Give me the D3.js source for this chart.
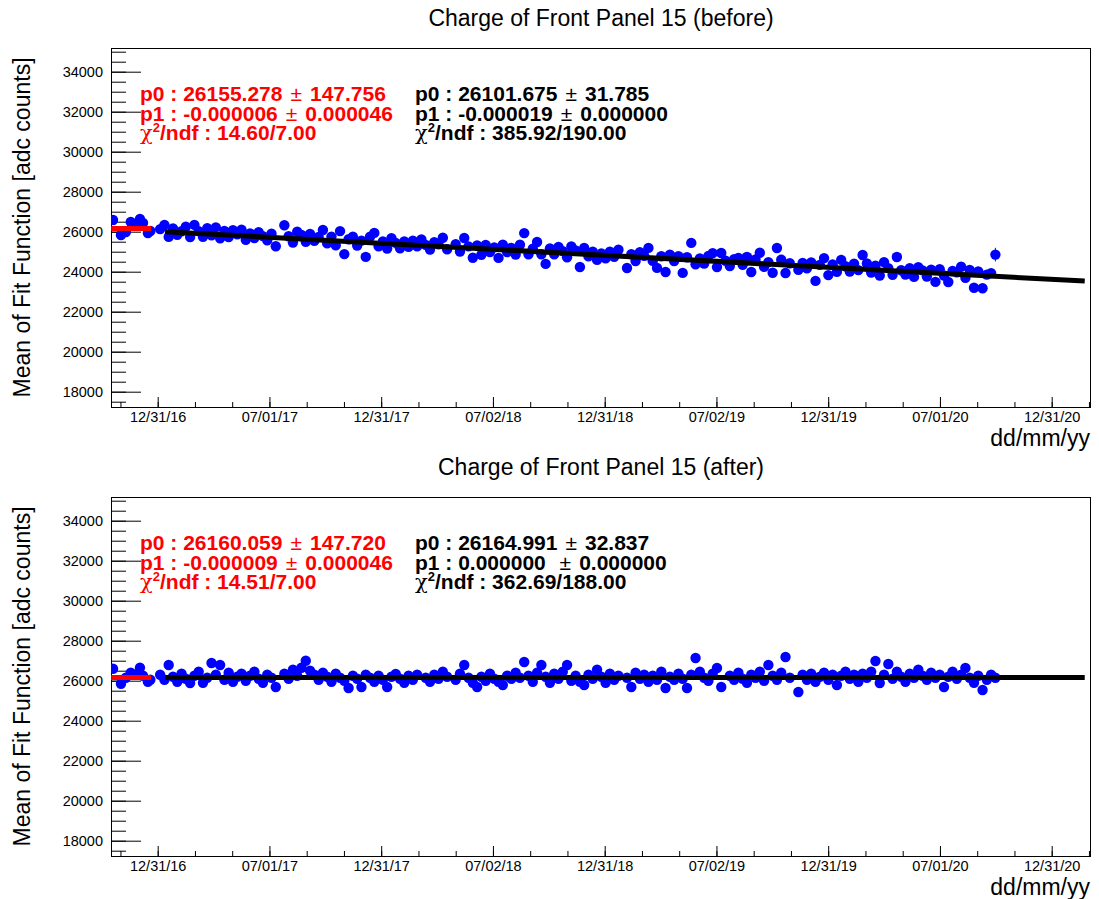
<!DOCTYPE html>
<html>
<head>
<meta charset="utf-8">
<script src="https://cdn.jsdelivr.net/npm/d3@7"></script>
<style>
  body { margin: 0; background: #fff; }
  svg { display: block; font-family: "Liberation Sans", Arial, Helvetica, sans-serif; }
</style>
</head>
<body>
<div id="chart"></div>
<script>
// ---- data ----
// x values are days since 2016-12-31
const earlyDays = [-73, -60, -52, -44, -37, -29, -24, -16, -12];
const earlyBefore = [26585, 25835, 25985, 26485, 26335, 26635, 26435, 25935, 26035];
const earlyAfter = [26600, 25850, 26150, 26400, 26300, 26650, 26250, 25950, 26050];

const daysBefore = [
  4, 11, 18, 25, 32, 39, 46, 53, 60, 67,
  74, 81, 88, 95, 102, 109, 116, 123, 130, 137,
  144, 151, 158, 165, 172, 179, 186, 193, 207,
  214, 221, 228, 235, 242, 249, 256, 263, 270, 277,
  284, 291, 298, 305, 312, 319, 326, 333, 340, 347,
  354, 361, 368, 375, 382, 389, 396, 403, 410, 417,
  424, 431, 438, 445, 452, 459, 466, 473, 487,
  494, 501, 508, 515, 522, 529, 536, 543, 550, 557,
  564, 571, 578, 585, 592, 599, 606, 613, 620, 627,
  634, 641, 648, 655, 662, 669, 676, 683, 690, 697,
  704, 711, 718, 725, 732, 739, 746, 753, 767,
  774, 781, 788, 795, 802, 809, 816, 823, 830, 837,
  844, 851, 858, 865, 872, 879, 886, 893, 900, 907,
  914, 921, 928, 935, 942, 949, 956, 963, 970, 977,
  984, 991, 998, 1005, 1012, 1019, 1026, 1033, 1047,
  1054, 1061, 1068, 1075, 1082, 1089, 1096, 1103, 1110, 1117,
  1124, 1131, 1138, 1145, 1152, 1159, 1166, 1173, 1180, 1187,
  1194, 1201, 1208, 1215, 1222, 1229, 1236, 1243, 1250, 1257,
  1264, 1271, 1278, 1285, 1292, 1299, 1306, 1313, 1320, 1327,
  1334, 1341, 1348, 1355, 1362, 1369
];
const chargeBefore = [
  26130, 26340, 25740, 26160, 25850, 26020, 26245, 25735, 26340, 26030,
  25750, 26170, 25815, 26215, 25670, 26040, 25730, 26070, 25865, 26095,
  25600, 25910, 25680, 25970, 25780, 25575, 25895, 25275, 26320,
  25770, 25455, 25995, 25835, 25500, 25890, 25540, 25740, 26085, 25415,
  25755, 25320, 26030, 24880, 25625, 25745, 25305, 25555, 24740, 25750,
  25940, 25275, 25515, 25155, 25680, 25440, 25170, 25510, 25245, 25555,
  25265, 25610, 25340, 25110, 25475, 25365, 25695, 25125, 25380,
  25010, 25685, 25265, 24695, 25310, 24850, 25340, 24980, 25215, 24690,
  25345, 24980, 25190, 24860, 25345, 25930, 24875, 25155, 25485, 24870,
  24390, 25165, 24875, 25240, 25030, 24720, 25260, 25060, 24235, 25185,
  24765, 25000, 24590, 24910, 24665, 25005, 24745, 25095, 24185,
  24870, 24535, 24975, 24795, 25190, 24540, 24190, 24770, 23985, 24845,
  24535, 24770, 23940, 24720, 25440, 24375, 24665, 24405, 24790, 24930,
  24230, 24935, 24545, 24285, 24620, 24690, 24350, 24740, 23985, 24615,
  24945, 24240, 24480, 23950, 25185, 24595, 23935, 24425, 24100,
  24440, 24175, 24465, 23540, 24340, 24680, 23830, 24360, 23995, 24590,
  24275, 24010, 24400, 24080, 24835, 24415, 23955, 24295, 23810, 24480,
  24180, 23845, 24735, 24075, 23860, 24180, 23740, 24230, 24065, 23755,
  24095, 23490, 24120, 23810, 23485, 24035, 23975, 24245, 23700, 24090,
  23200, 24015, 23175, 23855, 23930, 24855
];
// the "after" graph has the same dates except these two
const missingAfter = [431, 928];
const chargeAfter = [
  26300, 26050, 26785, 26200, 25950, 26350, 26100, 25880, 26250, 26450,
  25900, 26150, 26885, 26300, 26785, 26050, 26400, 25950, 26200, 26350,
  26000, 26250, 26450, 26100, 25900, 26300, 26150, 25685, 26350,
  26100, 26550, 26250, 26650, 27000, 26500, 26300, 26050, 26400, 26200,
  25950, 26350, 26150, 26000, 25635, 26250, 26100, 25685, 26300, 26150,
  25950, 26250, 26050, 25685, 26200, 26335, 26100, 25900, 26250, 26050,
  26300, 26150, 25950, 26300, 26100, 26450, 26200, 26050,
  26350, 26785, 26150, 25900, 25685, 26200, 26000, 26350, 26100, 25950,
  25785, 26250, 26100, 26400, 26150, 26935, 26250, 25950, 26400, 26785,
  26200, 25900, 26350, 26100, 26450, 26785, 26000, 26250, 25950, 25785,
  26300, 26100, 26550, 26200, 25900, 26350, 26050, 26250, 26150,
  25685, 26400, 26100, 26300, 25950, 26250, 26050, 26450, 25635, 26200,
  26050, 26350, 26100, 25635, 26300, 27135, 26450, 26150, 26000, 26350,
  26635, 25685, 26250, 26050, 26400, 26100, 25900, 26300, 26150,
  26450, 26000, 26785, 26250, 26050, 26400, 27185, 26150, 25435,
  26300, 26050, 26350, 25950, 26200, 26400, 26050, 26300, 25785, 26250,
  26450, 26100, 26300, 25950, 26350, 26150, 26450, 26985, 25885, 26300,
  26835, 26100, 26450, 26200, 25950, 26350, 26150, 26550, 26250, 26050,
  26400, 26150, 26300, 25685, 26200, 26450, 26100, 26300, 26635, 26150,
  25900, 26250, 25535, 26050, 26300, 26150
];
// visible error bars [day, error]; other points have small errors hidden by the marker
const bigErrBefore = [[1208, 220], [1369, 340]];
const bigErrAfter = [[1369, 200]];

// fits: [start day, end day] and values at the ends
const earlyFitDays = [-76, -11];
const earlyFitBefore = [26155, 26155];
const earlyFitAfter = [26160, 26160];
const fitDays = [12, 1515];
const fitBefore = [26000, 23530];
const fitAfter = [26165, 26165];

const tickDays = [0, 182.625, 365.25, 547.875, 730.5, 913.125, 1095.75, 1278.375, 1461];
const tickLabels = ['12/31/16', '07/01/17', '12/31/17', '07/02/18', '12/31/18',
                    '07/02/19', '12/31/19', '07/01/20', '12/31/20'];
const yMajor = [18000, 20000, 22000, 24000, 26000, 28000, 30000, 32000, 34000];

const statsBefore = {
  red: [['p0 : 26155.278', '147.756'], ['p1 : -0.000006', '0.000046'], [null, '/ndf : 14.60/7.00']],
  black: [['p0 : 26101.675', '31.785'], ['p1 : -0.000019', '0.000000'], [null, '/ndf : 385.92/190.00']]
};
const statsAfter = {
  red: [['p0 : 26160.059', '147.720'], ['p1 : -0.000009', '0.000046'], [null, '/ndf : 14.51/7.00']],
  black: [['p0 : 26164.991', '32.837'], ['p1 : 0.000000 ', '0.000000'], [null, '/ndf : 362.69/188.00']]
};

// ---- drawing ----
const W = 1099, H = 899;
const left = 111, right = 1090;
const base = Date.UTC(2016, 11, 31);
const day = d => new Date(base + d * 864e5);

const svg = d3.select('#chart').append('svg').attr('width', W).attr('height', H);

const x = d3.scaleUtc().domain([day(-76.3), day(1523.6)]).range([left, right]);

function drawPanel(off, title, early, days, charge, bigErr, earlyFit, fit, stats) {
  const top = 48 + off, bottom = 407 + off;
  const y = d3.scaleLinear().domain([17235, 35185]).range([bottom, top]);
  const g = svg.append('g');

  g.append('text').attr('x', 601).attr('y', 26 + off).attr('text-anchor', 'middle')
    .attr('font-size', 23).text(title);

  // y axis
  const minorY = d3.range(17500, 35001, 500);
  g.append('g').attr('transform', `translate(${left},0)`)
    .call(d3.axisLeft(y).tickValues(minorY).tickSize(-15).tickFormat(''))
    .call(a => a.select('.domain').remove());
  g.append('g').attr('transform', `translate(${left},0)`)
    .call(d3.axisLeft(y).tickValues(yMajor).tickSize(-30).tickPadding(8).tickFormat(d3.format('d')))
    .call(a => a.select('.domain').remove())
    .call(a => a.selectAll('text').attr('font-size', 14.5).attr('font-family', null).attr('fill', '#000'));

  // x axis
  const step = tickDays[1] - tickDays[0];
  const minorDays = [];
  for (let t = tickDays[0] - 2 * step; t <= tickDays[tickDays.length - 1] + step; t += step / 3) {
    if (t > -76.3 && t < 1523.6) minorDays.push(t);
  }
  g.append('g').attr('transform', `translate(0,${bottom})`)
    .call(d3.axisBottom(x).tickValues(minorDays.map(day)).tickSize(-5).tickFormat(''))
    .call(a => a.select('.domain').remove());
  g.append('g').attr('transform', `translate(0,${bottom})`)
    .call(d3.axisBottom(x).tickValues(tickDays.map(day)).tickSize(-10).tickPadding(5)
      .tickFormat((d, i) => tickLabels[i]))
    .call(a => a.select('.domain').remove())
    .call(a => a.selectAll('text').attr('font-size', 14.5).attr('font-family', null).attr('fill', '#000'));

  g.append('text').attr('x', right).attr('y', 446 + off).attr('text-anchor', 'end')
    .attr('font-size', 23).text('dd/mm/yy');

  g.append('text').attr('transform', `translate(30,${(top + bottom) / 2}) rotate(-90)`)
    .attr('text-anchor', 'middle').attr('font-size', 23).text('Mean of Fit Function [adc counts]');

  // frame
  g.append('rect').attr('x', left + 0.5).attr('y', top + 0.5)
    .attr('width', right - left).attr('height', bottom - top)
    .attr('fill', 'none').attr('stroke', '#000').attr('stroke-width', 1);

  // points
  const errMap = new Map(bigErr);
  const pts = days.map((d, i) => ({ d, v: charge[i], e: errMap.get(d) || 120 }))
    .filter(p => p.v !== undefined);
  const allPts = early.map(p => ({ d: p.d, v: p.v, e: 120 })).concat(pts);

  const clip = 'clip' + off;
  g.append('clipPath').attr('id', clip).append('rect')
    .attr('x', left).attr('y', top).attr('width', right - left).attr('height', bottom - top);
  const plot = g.append('g').attr('clip-path', `url(#${clip})`);

  plot.selectAll('line.err').data(allPts).enter().append('line')
    .attr('x1', p => x(day(p.d))).attr('x2', p => x(day(p.d)))
    .attr('y1', p => y(p.v - p.e)).attr('y2', p => y(p.v + p.e))
    .attr('stroke', '#0000ff').attr('stroke-width', 1);
  plot.selectAll('circle').data(allPts).enter().append('circle')
    .attr('cx', p => x(day(p.d))).attr('cy', p => y(p.v)).attr('r', 5.2)
    .attr('fill', '#0000ff');

  const line = d3.line().x(p => x(day(p[0]))).y(p => y(p[1]));
  plot.append('path').datum(earlyFitDays.map((d, i) => [d, earlyFit[i]]))
    .attr('d', line).attr('stroke', '#ff0000').attr('stroke-width', 5).attr('fill', 'none');
  plot.append('path').datum(fitDays.map((d, i) => [d, fit[i]]))
    .attr('d', line).attr('stroke', '#000').attr('stroke-width', 5).attr('fill', 'none');

  // fit results
  const writeStats = (lines, color, x0) => {
    lines.forEach((ln, i) => {
      const t = g.append('text').attr('x', x0).attr('y', 101 + i * 19.5 + off)
        .attr('font-size', 21).attr('font-weight', 'bold').attr('fill', color)
        .attr('xml:space', 'preserve');
      if (ln[0] === null) {
        t.append('tspan').attr('font-weight', 'normal').attr('font-family', 'DejaVu Serif, serif').text('χ');
        t.append('tspan').attr('font-size', 13).attr('dy', -8).text('2');
        t.append('tspan').attr('dy', 8).text(ln[1]);
      } else {
        t.append('tspan').text(ln[0]);
        t.append('tspan').attr('dx', 8).attr('font-weight', 'normal').text('±');
        t.append('tspan').attr('dx', 8).text(ln[1]);
      }
    });
  };
  writeStats(stats.red, '#ff0000', 140);
  writeStats(stats.black, '#000', 415);
}

const earlyB = earlyDays.map((d, i) => ({ d, v: earlyBefore[i] }));
const earlyA = earlyDays.map((d, i) => ({ d, v: earlyAfter[i] }));
const daysAfter = daysBefore.filter(d => !missingAfter.includes(d));

drawPanel(0, 'Charge of Front Panel 15 (before)', earlyB, daysBefore, chargeBefore,
  bigErrBefore, earlyFitBefore, fitBefore, statsBefore);
drawPanel(449, 'Charge of Front Panel 15 (after)', earlyA, daysAfter, chargeAfter,
  bigErrAfter, earlyFitAfter, fitAfter, statsAfter);
</script>
</body>
</html>
